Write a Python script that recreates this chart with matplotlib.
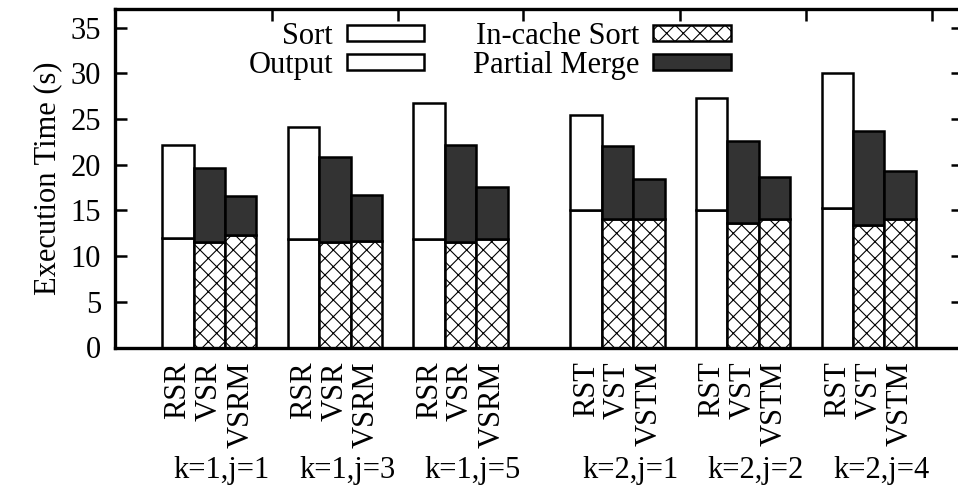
import matplotlib
matplotlib.use('Agg')
import matplotlib.pyplot as plt
import numpy as np

# data (seconds)
groups = ['k=1,j=1', 'k=1,j=3', 'k=1,j=5', 'k=2,j=1', 'k=2,j=2', 'k=2,j=4']
bar_names = [['RSR', 'VSR', 'VSRM']] * 3 + [['RST', 'VST', 'VSTM']] * 3

sort_t = [12.0, 11.9, 11.9, 15.0, 15.0, 15.3]
output_t = [10.2, 12.2, 14.9, 10.4, 12.3, 14.8]
incache_v = [11.5, 11.5, 11.6, 14.1, 13.6, 13.4]
merge_v = [8.2, 9.4, 10.6, 8.0, 9.0, 10.3]
incache_vm = [12.3, 11.7, 11.9, 14.1, 14.1, 14.1]
merge_vm = [4.3, 5.0, 5.7, 4.3, 4.6, 5.2]

FONT = 22
LW = 1.8
DARK = '#333333'

plt.rcParams['font.family'] = ['Liberation Serif', 'DejaVu Serif']
plt.rcParams['hatch.linewidth'] = 0.8
plt.rcParams['hatch.color'] = 'black'

fig = plt.figure(figsize=(9.58, 4.94), dpi=100)
ax = fig.add_axes([115 / 958, 146.5 / 494, 848 / 958, 338 / 494])

# cluster start positions: 3 bars + 1 gap, extra gap between k=1 and k=2
starts = np.array([4 * i + (1 if i >= 3 else 0) for i in range(len(groups))])
x0, x1, x2 = starts, starts + 1, starts + 2
bar_kw = dict(width=1.0, edgecolor='black', linewidth=LW)

ax.bar(x0, sort_t, facecolor='white', label='Sort', **bar_kw)
ax.bar(x0, output_t, bottom=sort_t, facecolor='white', label='Output', **bar_kw)
ax.bar(x1, incache_v, facecolor='white', hatch='xx', label='In-cache Sort', **bar_kw)
ax.bar(x1, merge_v, bottom=incache_v, facecolor=DARK, label='Partial Merge', **bar_kw)
ax.bar(x2, incache_vm, facecolor='white', hatch='xx', **bar_kw)
ax.bar(x2, merge_vm, bottom=incache_vm, facecolor=DARK, **bar_kw)

ax.set_xlim(-2, 25)
ax.set_ylim(0, 37)
ax.set_yticks(np.arange(0, 36, 5))
ax.set_ylabel('Execution Time (s)', fontsize=FONT, labelpad=6)

# bar names as rotated tick labels
xt = np.concatenate([x0, x1, x2])
xl = [n[0] for n in bar_names] + [n[1] for n in bar_names] + [n[2] for n in bar_names]
ax.set_xticks(xt)
ax.set_xticklabels(xl, rotation=90, fontsize=FONT, va='top', ha='center')
ax.set_xticks(starts + 3, minor=True)

ax.tick_params(axis='x', which='major', length=0, pad=10)
ax.tick_params(axis='x', which='minor', bottom=False, top=True, direction='in',
               length=8.6, width=LW)
ax.tick_params(axis='y', direction='in', length=8.6, width=LW, right=True,
               labelsize=FONT, pad=10)
for s in ax.spines.values():
    s.set_linewidth(2.4)

# group labels under each cluster
for g, s in zip(groups, starts):
    ax.text(s + 1.4, -0.365, g, transform=ax.get_xaxis_transform(),
            ha='center', va='center', fontsize=FONT)

leg = ax.legend(ncol=2, loc='upper center', bbox_to_anchor=(0.442, 1.045),
                frameon=False, fontsize=FONT, markerfirst=False,
                handlelength=2.55, handleheight=0.46, handletextpad=0.45,
                columnspacing=1.6, labelspacing=0.0)
for h in leg.legend_handles:
    h.set_linewidth(LW)

fig.savefig('out.png', dpi=100)
